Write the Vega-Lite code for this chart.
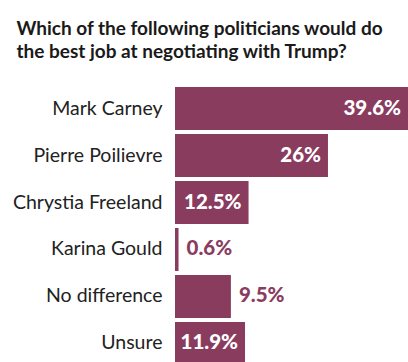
{
  "$schema": "https://vega.github.io/schema/vega-lite/v6.json",
  "width": 233,
  "height": 278,
  "autosize": "none",
  "padding": {"left": 175, "top": 87, "right": 0, "bottom": 0},
  "background": "white",
  "title": {
    "text": ["Which of the following politicians would do", "the best job at negotiating with Trump?"],
    "anchor": "start",
    "frame": "bounds",
    "font": "Lato",
    "fontSize": 19,
    "fontWeight": "bold",
    "color": "#1a1a1a",
    "lineHeight": 23,
    "offset": 25,
    "dx": 4
  },
  "data": {
    "values": [
      {"option": "Mark Carney", "pct": 39.6, "label": "39.6%"},
      {"option": "Pierre Poilievre", "pct": 26, "label": "26%"},
      {"option": "Chrystia Freeland", "pct": 12.5, "label": "12.5%"},
      {"option": "Karina Gould", "pct": 0.6, "label": "0.6%"},
      {"option": "No difference", "pct": 9.5, "label": "9.5%"},
      {"option": "Unsure", "pct": 11.9, "label": "11.9%"}
    ]
  },
  "encoding": {
    "y": {
      "field": "option",
      "type": "nominal",
      "sort": null,
      "scale": {"paddingInner": 0.085, "paddingOuter": 0},
      "axis": {
        "title": null,
        "domain": false,
        "ticks": false,
        "labelPadding": 13,
        "labelFont": "Lato",
        "labelFontSize": 19.5,
        "labelColor": "#222222",
        "labelLimit": 200
      }
    },
    "x": {
      "field": "pct",
      "type": "quantitative",
      "scale": {"domain": [0, 39.6], "nice": false},
      "axis": null
    }
  },
  "layer": [
    {"mark": {"type": "bar", "color": "#8a3c5f"}},
    {
      "transform": [{"filter": "datum.pct >= 10"}],
      "mark": {"type": "text", "align": "right", "dx": -7, "color": "white", "font": "Lato", "fontSize": 20.5, "fontWeight": 900},
      "encoding": {"text": {"field": "label"}}
    },
    {
      "transform": [{"filter": "datum.pct < 10"}],
      "mark": {"type": "text", "align": "left", "dx": 8, "color": "#8a3c5f", "font": "Lato", "fontSize": 20.5, "fontWeight": 900},
      "encoding": {"text": {"field": "label"}}
    }
  ],
  "config": {"view": {"stroke": null}}
}
